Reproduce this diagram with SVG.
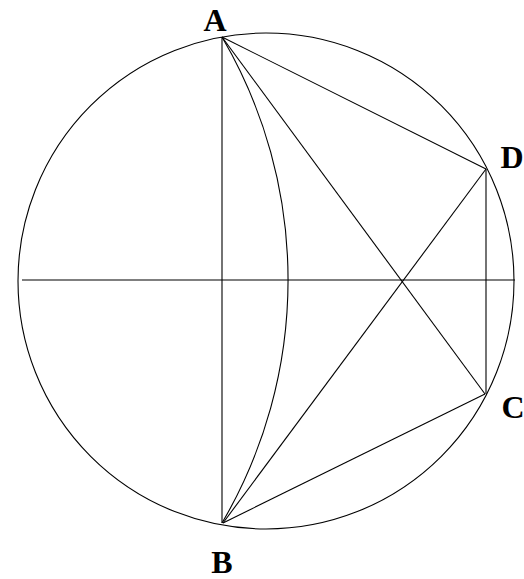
<svg xmlns="http://www.w3.org/2000/svg" width="524" height="579" viewBox="0 0 524 579">
<style>
.ln{stroke:#000;stroke-width:1.1;fill:none}
.lb{font-family:"Liberation Serif","Times New Roman",serif;font-size:32px;font-weight:bold;fill:#000;text-anchor:middle}
</style>
<rect width="524" height="579" fill="#fff"/>
<g id="connectors">
<circle class="ln" cx="266" cy="281" r="248"/>
<line class="ln" x1="22" y1="280" x2="515" y2="280"/>
<line class="ln" x1="222" y1="37" x2="222" y2="523"/>
<path class="ln" d="M222,37 A480,480 0 0 1 222,523"/>
<line class="ln" x1="222" y1="37" x2="486" y2="169"/>
<line class="ln" x1="222" y1="37" x2="485" y2="394"/>
<line class="ln" x1="223" y1="523" x2="486" y2="169"/>
<line class="ln" x1="223" y1="523" x2="485" y2="394"/>
<line class="ln" x1="486" y1="169" x2="486" y2="394"/>
</g>
<g id="A"><text class="lb" x="215" y="31">A</text></g>
<g id="B"><text class="lb" x="222" y="573">B</text></g>
<g id="C"><text class="lb" x="513" y="418">C</text></g>
<g id="D"><text class="lb" x="512" y="168">D</text></g>
</svg>
